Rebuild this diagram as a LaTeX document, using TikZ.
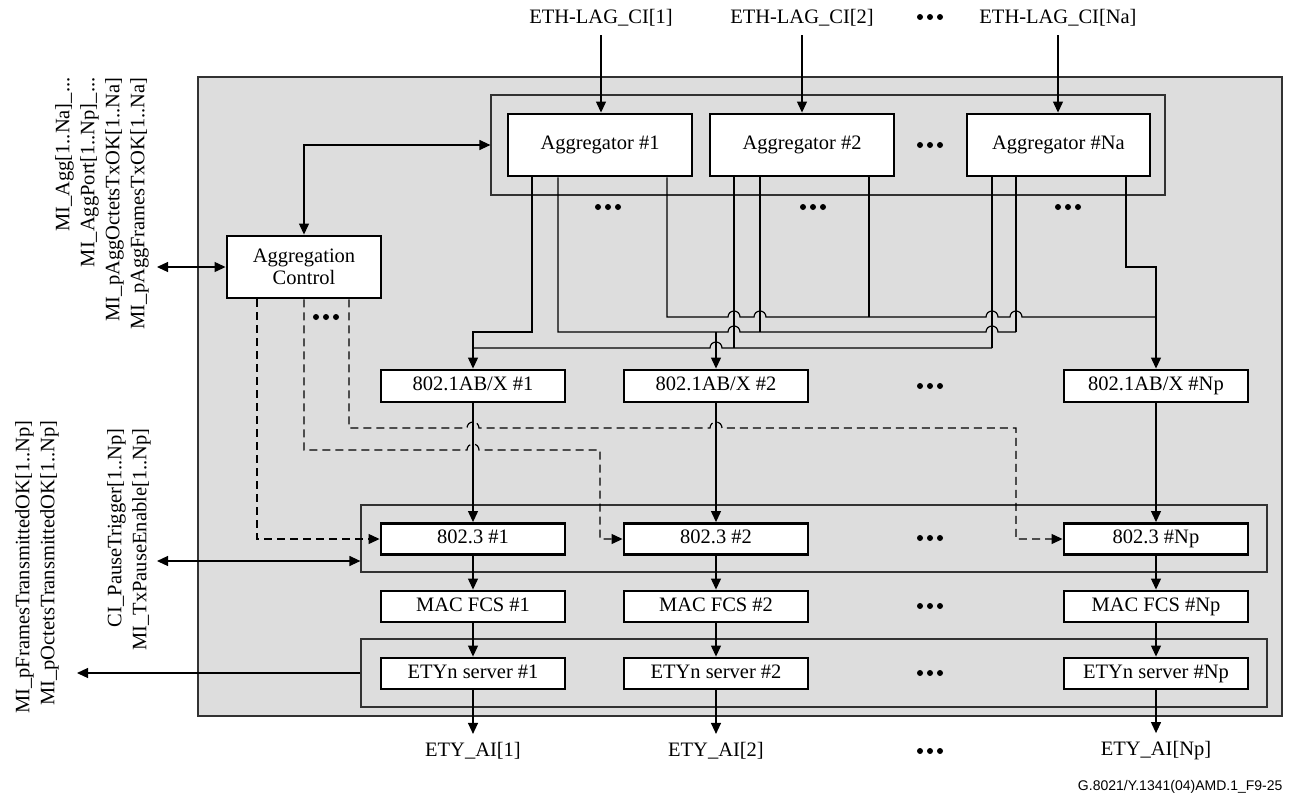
\documentclass[tikz,border=0pt]{standalone}
\usepackage{fontspec}
\setmainfont{Liberation Serif}
\setsansfont{Liberation Sans}
\usetikzlibrary{arrows.meta}
\definecolor{bgg}{RGB}{221,221,221}
\definecolor{frm}{RGB}{50,50,50}
\newcommand\lfs{\fontsize{20.5}{25}\selectfont}
\newcommand\tdots[2]{\foreach \dx in {-10,0,10}{\fill ({#1+\dx},{#2}) circle[radius=3pt];}}
\begin{document}
\begin{tikzpicture}[x=1pt,y=-1pt,line width=1.2pt,
  tip/.tip={Triangle[length=11pt,width=10pt]},
  arr/.style={-tip},
  darr/.style={tip-tip},
  dsh/.style={dash pattern=on 8pt off 5pt},
  blk/.style={draw,fill=white,line width=2.9pt,minimum width=184pt,minimum height=32pt,inner sep=0pt,font=\lfs,text height=14pt,text depth=4.5pt},
  aggblk/.style={blk,minimum height=62pt},
  grp/.style={draw=frm,line width=1.2pt,inner sep=0pt},
  lbl/.style={font=\lfs,inner sep=8pt},
  side/.style={font=\lfs,inner sep=0pt,rotate=90,align=right,anchor=east}]
\useasboundingbox (0,0) rectangle (1293,796);

% main shaded box and groups
\node[grp,fill=bgg,minimum width=1084pt,minimum height=639pt] (main) at (740,396.5) {};
\node[grp,minimum width=674pt,minimum height=100pt] (aggG) at (828,145) {};
\node[grp,minimum width=906pt,minimum height=67pt] (g3) at (814,538.5) {};
\node[grp,minimum width=906pt,minimum height=68pt] (gE) at (814,673) {};

% top labels
\node[lbl] (t1) at (601,18) {ETH-LAG\_CI[1]};
\node[lbl] (t2) at (802,18) {ETH-LAG\_CI[2]};
\node[lbl] (tN) at (1058,18) {ETH-LAG\_CI[Na]};
\tdots{930}{17}

% aggregators
\node[aggblk] (agg1) at (600,145) {Aggregator \#1};
\node[aggblk] (agg2) at (802,145) {Aggregator \#2};
\node[aggblk,minimum width=183pt] (aggN) at (1058.5,145) {Aggregator \#Na};
\tdots{930}{145}
\tdots{608}{207}
\tdots{813}{207}
\tdots{1068}{207}

% aggregation control
\node[blk,minimum width=154pt,minimum height=62pt,align=center,font=\fontsize{20.5}{22}\selectfont,text height=,text depth=] (ctrl) at (304,267) {Aggregation\\Control};
\tdots{326}{317}

% 802.1AB/X
\node[blk] (ab1) at (473,386) {802.1AB/X \#1};
\node[blk] (ab2) at (716,386) {802.1AB/X \#2};
\node[blk] (abN) at (1156,386) {802.1AB/X \#Np};
\tdots{930}{386}

% 802.3
\node[blk,minimum height=31pt] (e1) at (473,539) {802.3 \#1};
\node[blk,minimum height=31pt] (e2) at (716,539) {802.3 \#2};
\node[blk,minimum height=31pt] (eN) at (1156,539) {802.3 \#Np};
\tdots{930}{538}

% MAC FCS
\node[blk,minimum height=31pt] (m1) at (473,606.5) {MAC FCS \#1};
\node[blk,minimum height=31pt] (m2) at (716,606.5) {MAC FCS \#2};
\node[blk,minimum height=31pt] (mN) at (1156,606.5) {MAC FCS \#Np};
\tdots{930}{606}

% ETYn server
\node[blk,minimum height=31pt] (s1) at (473,673.5) {ETYn server \#1};
\node[blk,minimum height=31pt] (s2) at (716,673.5) {ETYn server \#2};
\node[blk,minimum height=31pt] (sN) at (1156,673.5) {ETYn server \#Np};
\tdots{930}{673}

% bottom labels
\node[lbl] (b1) at (473,751) {ETY\_AI[1]};
\node[lbl] (b2) at (716,751) {ETY\_AI[2]};
\node[lbl] (bN) at (1156,751) {ETY\_AI[Np]};
\tdots{930}{751}

% side labels
\node[side] (L1) at (102,77) {MI\_Agg[1..Na]\_...\\MI\_AggPort[1..Np]\_...\\MI\_pAggOctetsTxOK[1..Na]\\MI\_pAggFramesTxOK[1..Na]};
\node[side] (L2) at (37,420) {MI\_pFramesTransmittedOK[1..Np]\\MI\_pOctetsTransmittedOK[1..Np]};
\node[side] (L3) at (129,428) {CI\_PauseTrigger[1..Np]\\MI\_TxPauseEnable[1..Np]};

% footer
\node[font=\sffamily\fontsize{14}{16}\selectfont,anchor=east,inner sep=0pt] (foot) at (1283,787) {G.8021/Y.1341(04)AMD.1\_F9-25};

% coordinates
\coordinate (xa) at (532,0);  \coordinate (xb) at (558,0);  \coordinate (xc) at (667,0);
\coordinate (xd) at (734,0);  \coordinate (xe) at (760,0);  \coordinate (xf) at (869,0);
\coordinate (xg) at (992,0);  \coordinate (xh) at (1016,0); \coordinate (xi) at (1126,0);
\coordinate (xk1) at (257,0); \coordinate (xk2) at (304,0); \coordinate (xk3) at (349,0);
\coordinate (pc) at (157,267);
\coordinate (pp) at (157,561);
\coordinate (pe) at (77,673);

% inputs
\draw[arr] (t1.south) -- (t1.south |- agg1.north);
\draw[arr] (t2.south) -- (t2.south |- agg2.north);
\draw[arr] (tN.south) -- (tN.south |- aggN.north);

% control links
\draw[darr] (ctrl.north) |- (aggG.west);
\draw[darr] (pc) -- (ctrl.west);
\draw[darr] (pp) -- (pp -| g3.west);
\draw[arr] (gE.west |- pe) -- (pe);

% aggregator -> 802.1AB/X wiring
\draw[arr] (agg1.south -| xa) |- (473,332) -- (ab1.north);
\draw (473,348) -- (710,348) arc[start angle=180,end angle=0,radius=6pt] -- (992,348);
\draw (agg2.south -| xd) -- (734,348);
\draw (aggN.south -| xg) -- (992,348);
\draw (agg1.south -| xb) -- (558,332) -- (728,332) arc[start angle=180,end angle=0,radius=6pt] -- (986,332) arc[start angle=180,end angle=0,radius=6pt] -- (1016,332);
\draw (agg2.south -| xe) -- (760,332);
\draw (aggN.south -| xh) -- (1016,332);
\draw[arr] (716,332) -- (ab2.north);
\draw (agg1.south -| xc) -- (667,317) -- (728,317) arc[start angle=180,end angle=0,radius=6pt] -- (754,317) arc[start angle=180,end angle=0,radius=6pt] -- (986,317) arc[start angle=180,end angle=0,radius=6pt] -- (1010,317) arc[start angle=180,end angle=0,radius=6pt] -- (1156,317);
\draw (agg2.south -| xf) -- (869,317);
\draw[arr] (aggN.south -| xi) |- (1156,267) -- (abN.north);

% dashed control lines
\draw[dsh,arr] (ctrl.south -| xk1) |- (e1.west);
\draw[dsh,arr] (ctrl.south -| xk2) -- (304,450) -- (467,450) arc[start angle=180,end angle=0,radius=6pt] -- (600,450) |- (e2.west);
\draw[dsh,arr] (ctrl.south -| xk3) -- (349,428) -- (467,428) arc[start angle=180,end angle=0,radius=6pt] -- (710,428) arc[start angle=180,end angle=0,radius=6pt] -- (1016,428) |- (eN.west);

% vertical chains
\foreach \k in {1,2,N}{
  \draw[arr] (ab\k) -- (e\k);
  \draw[arr] (e\k) -- (m\k);
  \draw[arr] (m\k) -- (s\k);
  \draw[arr] (s\k) -- (b\k);
}
\end{tikzpicture}
\end{document}
